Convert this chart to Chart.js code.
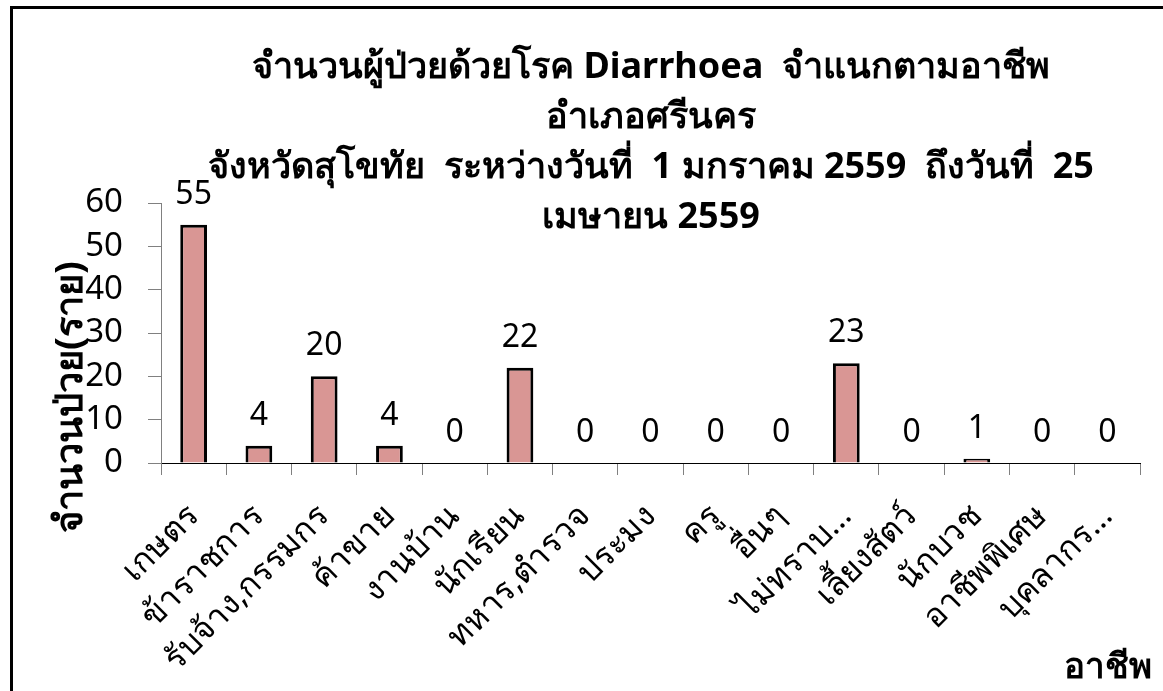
<!DOCTYPE html>
<html>
<head>
<meta charset="utf-8">
<script src="https://cdn.jsdelivr.net/npm/chart.js@4.4.0/dist/chart.umd.min.js"></script>
<style>
  html, body { margin: 0; padding: 0; background: #fff; }
  #wrap { position: relative; width: 1163px; height: 691px; overflow: hidden; }
  #frame { position: absolute; left: 10px; top: 6px; width: 1200px; height: 760px; border: 3px solid #000; pointer-events: none; }
</style>
</head>
<body>
<div id="wrap">
  <canvas id="occChart" width="1163" height="691"></canvas>
  <div id="frame"></div>
</div>
<script>
const occupations = ['เกษตร', 'ข้าราชการ', 'รับจ้าง,กรรมกร', 'ค้าขาย', 'งานบ้าน', 'นักเรียน', 'ทหาร,ตำรวจ',
    'ประมง', 'ครู', 'อื่นๆ', 'ไม่ทราบ…', 'เลี้ยงสัตว์', 'นักบวช', 'อาชีพพิเศษ', 'บุคลากร…'];
const patients = [55, 4, 20, 4, 0, 22, 0, 0, 0, 0, 23, 0, 1, 0, 0];
const yTickMin = 0;
const yTickMax = 60;
const yTickStep = 10;
const titleLines = [
    'จำนวนผู้ป่วยด้วยโรค Diarrhoea  จำแนกตามอาชีพ',
    'อำเภอศรีนคร',
    'จังหวัดสุโขทัย  ระหว่างวันที่  1 มกราคม 2559  ถึงวันที่  25',
    'เมษายน 2559'
];
const yTitle = 'จำนวนป่วย(ราย)';
const xTitle = 'อาชีพ';

const FONT = '"Noto Sans", "Open Sans", sans-serif';

// numbers sitting on top of each bar
const valueLabels = {
    id: 'valueLabels',
    afterDatasetsDraw(chart) {
        const ctx = chart.ctx;
        const meta = chart.getDatasetMeta(0);
        ctx.save();
        ctx.font = '32px ' + FONT;
        ctx.fillStyle = '#000';
        ctx.textAlign = 'center';
        ctx.textBaseline = 'alphabetic';
        meta.data.forEach((bar, i) => {
            ctx.fillText(String(patients[i]), bar.x, bar.y - 21);
        });
        ctx.restore();
    }
};

// the title overlaps the plot in the original, so it is painted on top
const overlayTitles = {
    id: 'overlayTitles',
    afterDraw(chart) {
        const ctx = chart.ctx;
        ctx.save();
        ctx.fillStyle = '#000';
        ctx.font = 'bold 36px ' + FONT;
        ctx.textAlign = 'center';
        ctx.textBaseline = 'alphabetic';
        titleLines.forEach((line, i) => ctx.fillText(line, 651, 78 + i * 50));

        ctx.font = 'bold 35px ' + FONT;
        ctx.textAlign = 'right';
        ctx.textBaseline = 'middle';
        ctx.fillText(xTitle, 1152, 668);

        ctx.font = 'bold 38px ' + FONT;
        ctx.textAlign = 'center';
        ctx.translate(71, 397);
        ctx.rotate(-Math.PI / 2);
        ctx.fillText(yTitle, 0, 0);
        ctx.restore();
    }
};

new Chart(document.getElementById('occChart'), {
    type: 'bar',
    data: {
        labels: occupations,
        datasets: [{
            data: patients,
            backgroundColor: '#D99694',
            borderColor: '#000',
            borderWidth: 3,
            barPercentage: 0.41,
            categoryPercentage: 1
        }]
    },
    options: {
        responsive: false,
        animation: false,
        layout: {
            padding: { top: 203, right: 23, left: 0, bottom: 0 }
        },
        scales: {
            x: {
                grid: { drawOnChartArea: false, offset: true, tickLength: 12, color: '#808080' },
                border: { color: '#000', width: 1 },
                ticks: {
                    color: '#000',
                    font: { family: FONT, size: 33 },
                    minRotation: 45,
                    maxRotation: 45,
                    autoSkip: false,
                    padding: 22
                },
                afterFit(scale) { scale.height = 228; }
            },
            y: {
                min: yTickMin,
                max: yTickMax,
                ticks: {
                    stepSize: yTickStep,
                    autoSkip: false,
                    color: '#000',
                    font: { family: FONT, size: 33 },
                    padding: 25
                },
                grid: { drawOnChartArea: false, tickLength: 13, color: '#808080' },
                border: { color: '#808080', width: 1 },
                afterFit(scale) { scale.width = 161; }
            }
        },
        plugins: {
            legend: { display: false },
            tooltip: { enabled: false }
        }
    },
    plugins: [valueLabels, overlayTitles]
});
</script>
</body>
</html>
